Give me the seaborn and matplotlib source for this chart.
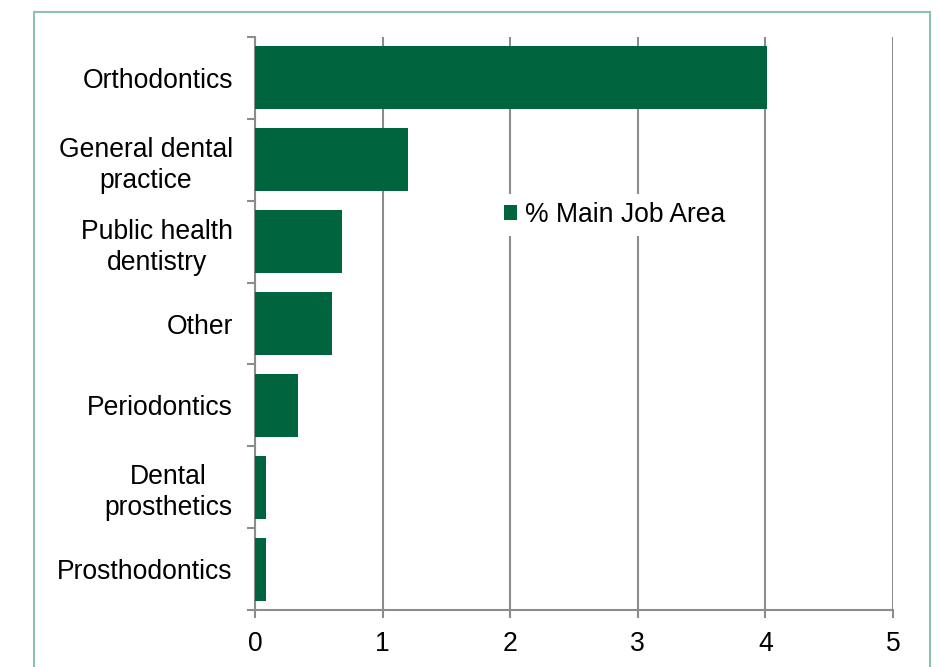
import matplotlib
matplotlib.use("Agg")
import matplotlib.pyplot as plt
import seaborn as sns
import pandas as pd
import numpy as np
from matplotlib.patches import Rectangle

categories = ["Orthodontics", "General dental\npractice", "Public health\ndentistry",
              "Other", "Periodontics", "Dental\nprosthetics", "Prosthodontics"]
values = [4.01, 1.20, 0.68, 0.60, 0.34, 0.086, 0.086]
series_name = "% Main Job Area"
x_ticks = [0, 1, 2, 3, 4, 5]

sns.set_theme(style="white")
plt.rcParams["font.family"] = ["Liberation Sans", "DejaVu Sans"]

BAR = "#00643F"
GRID = "#8C8C8C"
FS = 19.1

fig = plt.figure(figsize=(9.38, 6.67), dpi=100)
ax = fig.add_axes([255/938, 1-610/667, (893-255)/938, (610-37)/667])

df = pd.DataFrame({"category": categories, "value": values})
sns.barplot(data=df, x="value", y="category", color=BAR, saturation=1,
            width=0.77, label=series_name, ax=ax, zorder=3, linewidth=0)

ax.set_xlim(0, 5)
ax.set_ylim(len(categories) - 0.5, -0.5)
ax.set_xticks(x_ticks)
ax.set_xticklabels([str(t) for t in x_ticks], fontsize=FS, color="black")
ax.set_xlabel("")
ax.set_ylabel("")
ax.set_yticks(range(len(categories)))
ax.set_yticklabels(categories, fontsize=FS, color="black", multialignment="center",
                   linespacing=1.26)
ax.set_yticks(np.arange(-0.5, len(categories) + 0.5, 1), minor=True)
ax.tick_params(axis="y", which="major", length=0, pad=16)
ax.tick_params(axis="y", which="minor", length=6, width=1.5, color=GRID, direction="out", left=True)
ax.tick_params(axis="x", which="major", length=6, width=1.5, color=GRID, direction="out", pad=9, bottom=True)

ax.set_axisbelow(True)
ax.grid(axis="x", color=GRID, linewidth=1.5)
ax.grid(axis="y", visible=False)
for s in ["top", "right"]:
    ax.spines[s].set_visible(False)
for s in ["left", "bottom"]:
    ax.spines[s].set_color(GRID)
    ax.spines[s].set_linewidth(1.5)

leg = ax.legend(loc="center left", bbox_to_anchor=(0.378, 0.689), fontsize=FS,
                frameon=True, facecolor="white", edgecolor="none", framealpha=1,
                handlelength=0.5, handleheight=0.5, handletextpad=0.3,
                borderpad=0.3, borderaxespad=0, fancybox=False, labelcolor="black")
leg.set_zorder(5)

fig.patches.append(Rectangle((34/938, -0.02), (930-34)/938, 1-12/667+0.02,
                             transform=fig.transFigure, fill=False,
                             edgecolor="#8DC3AE", linewidth=1.5))

fig.savefig("out.png", dpi=100)
